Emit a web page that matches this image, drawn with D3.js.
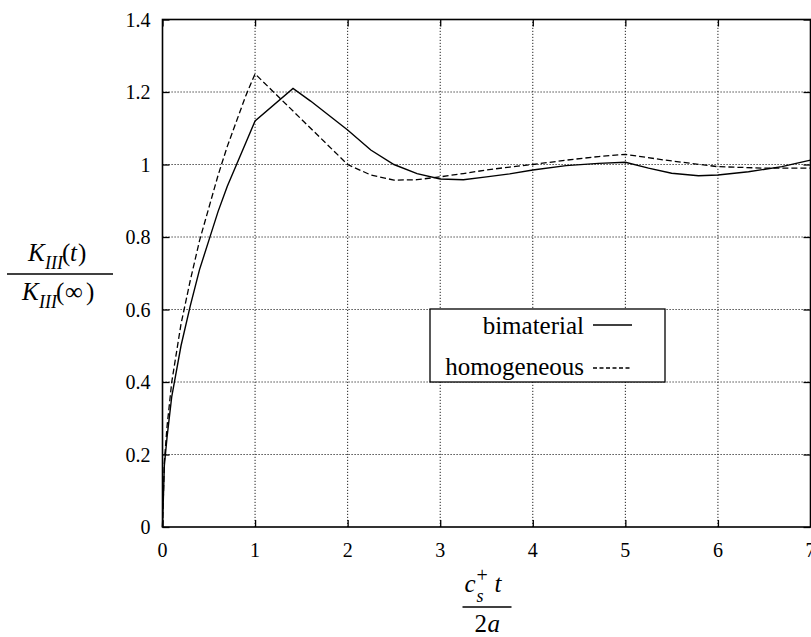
<!DOCTYPE html>
<html>
<head>
<meta charset="utf-8">
<script src="https://cdn.jsdelivr.net/npm/d3@7"></script>
<style>
  html, body { margin: 0; padding: 0; background: #fff; }
</style>
</head>
<body>
<script>
// values
const xTicks = [0, 1, 2, 3, 4, 5, 6, 7];
const xTickLabels = ["0", "1", "2", "3", "4", "5", "6", "7"];
const yTicks = [0, 0.2, 0.4, 0.6, 0.8, 1, 1.2, 1.4];
const yTickLabels = ["0", "0.2", "0.4", "0.6", "0.8", "1", "1.2", "1.4"];

const bimatX = [0, 0.02, 0.05, 0.1, 0.2, 0.3, 0.4, 0.5, 0.6, 0.7, 0.8, 0.9, 1.0,
  1.41, 1.6, 1.8, 2.0, 2.25, 2.5, 2.75, 3.0, 3.25, 3.5, 3.75, 4.0, 4.36, 4.71, 5.0,
  5.25, 5.5, 5.79, 6.0, 6.33, 6.69, 7.0];
const bimatY = [0, 0.17, 0.25, 0.36, 0.50, 0.61, 0.71, 0.79, 0.87, 0.94, 1.0, 1.06, 1.12,
  1.21, 1.175, 1.135, 1.095, 1.04, 1.0, 0.975, 0.96, 0.958, 0.966, 0.974, 0.985, 0.997, 1.003, 1.006,
  0.99, 0.976, 0.969, 0.971, 0.98, 0.994, 1.012];

const homogX = [0, 0.02, 0.05, 0.1, 0.2, 0.3, 0.4, 0.5, 0.6, 0.7, 0.8, 0.9, 1.0,
  1.5, 2.0, 2.25, 2.5, 2.75, 3.0, 3.25, 3.5, 3.75, 4.0, 4.36, 4.71, 5.0,
  5.43, 6.0, 6.5, 7.0];
const homogY = [0, 0.18, 0.28, 0.40, 0.56, 0.68, 0.79, 0.88, 0.97, 1.05, 1.12, 1.19, 1.25,
  1.125, 1.0, 0.971, 0.957, 0.958, 0.966, 0.975, 0.985, 0.993, 1.0, 1.012, 1.022, 1.028,
  1.012, 0.994, 0.99, 0.99];

const legendNames = ["bimaterial", "homogeneous"];

const width = 811;
const height = 637;

const svg = d3.select("body").append("svg")
  .attr("width", width)
  .attr("height", height);

const x = d3.scaleLinear().domain([0, 7]).range([162.5, 810.5]);
const y = d3.scaleLinear().domain([0, 1.4]).range([527, 19.5]);

// all text goes straight onto the svg, in the serif face
function label(tx, ty, size, italic, str, anchor) {
  return svg.append("text")
    .attr("x", tx).attr("y", ty)
    .attr("text-anchor", anchor || "start")
    .attr("font-size", size)
    .style("font-family", '"Liberation Serif"')
    .style("font-style", italic ? "italic" : "normal")
    .text(str);
}

// dotted grid
const grid = svg.append("g")
  .attr("stroke", "#222")
  .attr("stroke-width", 1)
  .attr("stroke-dasharray", "1.2,1.8");
grid.selectAll(".gx")
  .data(xTicks.slice(1, -1))
  .join("line")
  .attr("x1", d => x(d)).attr("x2", d => x(d))
  .attr("y1", y(0)).attr("y2", y(1.4));
grid.selectAll(".gy")
  .data(yTicks.slice(1, -1))
  .join("line")
  .attr("x1", x(0)).attr("x2", x(7))
  .attr("y1", d => y(d)).attr("y2", d => y(d));

// axes: inward ticks on all four sides, labels drawn separately
const tickLen = 7;
const axes = [
  d3.axisBottom(x).tickValues(xTicks),
  d3.axisTop(x).tickValues(xTicks),
  d3.axisLeft(y).tickValues(yTicks),
  d3.axisRight(y).tickValues(yTicks)
];
const axisPos = [
  `translate(0,${y(0)})`,
  `translate(0,${y(1.4)})`,
  `translate(${x(0)},0)`,
  `translate(${x(7)},0)`
];
axes.forEach((a, i) => {
  const g = svg.append("g").attr("transform", axisPos[i])
    .call(a.tickSizeInner(-tickLen).tickSizeOuter(0));
  g.select(".domain").remove();
  g.selectAll(".tick text").remove();
  g.selectAll(".tick line").attr("stroke", "#000").attr("stroke-width", 1.3);
});

xTicks.forEach((d, i) => label(x(d), y(0) + 30, 20, false, xTickLabels[i], "middle"));
yTicks.forEach((d, i) => label(x(0) - 12, y(d) + 7, 20, false, yTickLabels[i], "end"));

// frame
svg.append("rect")
  .attr("x", x(0)).attr("y", y(1.4))
  .attr("width", x(7) - x(0)).attr("height", y(0) - y(1.4))
  .attr("fill", "none").attr("stroke", "#000").attr("stroke-width", 1.6);

// curves
const line = d3.line()
  .x(d => x(d[0]))
  .y(d => y(d[1]));

svg.append("path")
  .datum(bimatX.map((v, i) => [v, bimatY[i]]))
  .attr("d", line)
  .attr("fill", "none").attr("stroke", "#000").attr("stroke-width", 1.4);
svg.append("path")
  .datum(homogX.map((v, i) => [v, homogY[i]]))
  .attr("d", line)
  .attr("fill", "none").attr("stroke", "#000").attr("stroke-width", 1.3)
  .attr("stroke-dasharray", "6,3");

// legend
svg.append("rect")
  .attr("x", 430).attr("y", 309).attr("width", 235).attr("height", 73)
  .attr("fill", "#fff").attr("stroke", "#000").attr("stroke-width", 1.3);
legendNames.forEach((name, i) => {
  label(584, 334 + i * 41, 25, false, name, "end");
  svg.append("line")
    .attr("x1", 593).attr("x2", 632)
    .attr("y1", 325 + i * 43).attr("y2", 325 + i * 43)
    .attr("stroke", "#000").attr("stroke-width", 1.3)
    .attr("stroke-dasharray", i ? "4,2.5" : null);
});

// y axis label: K_III(t) / K_III(inf)
const ylx = 58, yly = 274;
svg.append("line").attr("x1", ylx - 51).attr("x2", ylx + 55).attr("y1", yly).attr("y2", yly)
  .attr("stroke", "#000").attr("stroke-width", 1.4);
label(ylx - 30, yly - 13, 25, true, "K");
label(ylx - 13, yly - 5, 18, true, "III");
label(ylx + 4, yly - 13, 25, false, "(");
label(ylx + 12, yly - 13, 25, true, "t");
label(ylx + 20, yly - 13, 25, false, ")");
label(ylx - 36, yly + 26, 25, true, "K");
label(ylx - 19, yly + 34, 18, true, "III");
label(ylx - 2, yly + 26, 25, false, "(");
label(ylx + 7, yly + 26, 25, false, "\u221E");
label(ylx + 28, yly + 26, 25, false, ")");

// x axis label: c_s^+ t / 2a
const xlx = (x(0) + x(7)) / 2, xly = 607;
svg.append("line").attr("x1", xlx - 24).attr("x2", xlx + 25).attr("y1", xly).attr("y2", xly)
  .attr("stroke", "#000").attr("stroke-width", 1.4);
label(xlx - 22, xly - 15, 25, true, "c");
label(xlx - 10, xly - 5, 18, true, "s");
label(xlx - 10, xly - 25, 20, false, "+");
label(xlx + 8, xly - 15, 25, true, "t");
label(xlx - 12, xly + 25, 25, false, "2");
label(xlx + 1, xly + 25, 25, true, "a");
</script>
</body>
</html>
